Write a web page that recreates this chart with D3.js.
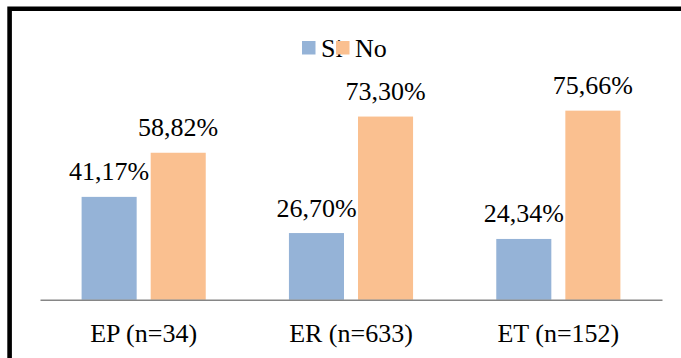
<!DOCTYPE html>
<html>
<head>
<meta charset="utf-8">
<script src="https://cdn.jsdelivr.net/npm/d3@7/dist/d3.min.js"></script>
</head>
<body style="margin:0">
<svg id="chart" width="681" height="358"></svg>
<script>
const categories = ["EP (n=34)", "ER (n=633)", "ET (n=152)"];
const seriesNames = ["Si", "No"];
const siValues = [41.17, 26.70, 24.34];
const noValues = [58.82, 73.30, 75.66];
const siLabels = ["41,17%", "26,70%", "24,34%"];
const noLabels = ["58,82%", "73,30%", "75,66%"];
const colors = ["#95B3D7", "#FAC090"];

const fontName = "Liberation Serif";
const FONT = `'${fontName}', monospace`;
const FS = "26px";

const svg = d3.select("#chart");
const W = 681, H = 358;

// outer frame (right/bottom edges lie outside the visible area)
svg.append("path")
  .attr("d", `M9.6,${H + 10}V8.7H${W + 10}`)
  .attr("fill", "none").attr("stroke", "#000").attr("stroke-width", 4.6);

const axisY = 299.8;
const x = d3.scaleBand().domain(categories).range([40, 662]).padding(0);
const y = d3.scaleLinear().domain([0, 80]).range([axisY, axisY - 200]);

const outer = 41.6;
const xs = d3.scaleBand().domain(seriesNames)
  .range([outer, x.bandwidth() - outer])
  .paddingInner(14 / 69).paddingOuter(0);

const data = categories.map((c, i) => ({
  cat: c,
  vals: [
    { s: "Si", v: siValues[i], label: siLabels[i], color: colors[0] },
    { s: "No", v: noValues[i], label: noLabels[i], color: colors[1] }
  ]
}));

const groups = svg.selectAll("g.cat").data(data).join("g")
  .attr("class", "cat")
  .attr("transform", d => `translate(${x(d.cat)},0)`);

groups.selectAll("rect").data(d => d.vals).join("rect")
  .attr("x", d => xs(d.s))
  .attr("width", xs.bandwidth())
  .attr("y", d => y(d.v))
  .attr("height", d => axisY - y(d.v))
  .attr("fill", d => d.color);

// x axis
const xAxis = d3.axisBottom(x).tickSize(0).tickPadding(0).tickFormat(() => "");
const ax = svg.append("g").attr("transform", `translate(0,${axisY})`).call(xAxis);
ax.select(".domain").attr("stroke", "#868686").attr("stroke-width", 1.6);

// texts drawn as plain svg text elements
function addText(tx, ty, str, anchor) {
  svg.append("text").attr("x", tx).attr("y", ty)
    .attr("text-anchor", anchor)
    .style("font-family", FONT)
    .style("font-size", FS)
    .text(str);
}

data.forEach(d => {
  d.vals.forEach(v => {
    addText(x(d.cat) + xs(v.s) + xs.bandwidth() / 2, y(v.v) - 16.5, v.label, "middle");
  });
  addText(x(d.cat) + x.bandwidth() / 2, axisY + 42.5, d.cat, "middle");
});

// legend
let lx = 302;
seriesNames.forEach((name, i) => {
  svg.append("rect")
    .attr("x", lx).attr("y", 41)
    .attr("width", 13.5).attr("height", 13.5)
    .attr("fill", colors[i]);
  addText(lx + 19, 56.5, name, "start");
  const tw = svg.select("text:last-of-type").node().getComputedTextLength();
  lx = lx + 19 + tw + 15;
});
</script>
</body>
</html>
